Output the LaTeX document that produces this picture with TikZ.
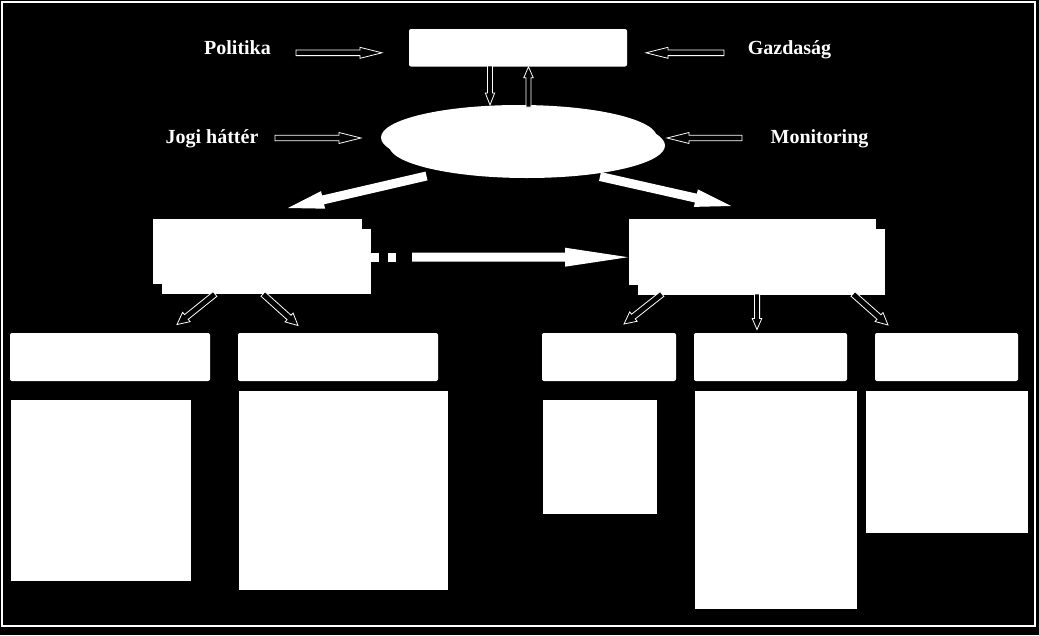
\documentclass[tikz,border=0pt]{standalone}
\usepackage{fontspec}
\setmainfont{Liberation Serif}
\usetikzlibrary{calc,shapes.geometric,shadows}
\tikzset{
  lbl/.style={text=white, font=\bfseries\fontsize{20}{24}\selectfont, inner sep=0pt, anchor=base},
  box/.style={fill=white, draw=none, inner sep=0pt, rectangle},
  rbox/.style={box, rounded corners=2pt},
  boxshadow/.style={drop shadow={shadow xshift=9pt, shadow yshift=-10pt, fill=white, opacity=1}},
  ellshadow/.style={drop shadow={shadow xshift=8pt, shadow yshift=-8pt, fill=white, opacity=1}},
  oarr/.style={draw=white, fill=black, line width=0.8pt, line join=miter},
  sarr/.style={fill=white, draw=none},
  barrow/.style n args={3}{to path={
    ($(\tikztostart)!#1!90:(\tikztotarget)$)
    -- ($(\tikztotarget)!#3!(\tikztostart)!#1!-90:(\tikztostart)$)
    -- ($(\tikztotarget)!#3!(\tikztostart)!#2!-90:(\tikztostart)$)
    -- (\tikztotarget)
    -- ($(\tikztotarget)!#3!(\tikztostart)!#2!90:(\tikztostart)$)
    -- ($(\tikztotarget)!#3!(\tikztostart)!#1!90:(\tikztostart)$)
    -- ($(\tikztostart)!#1!-90:(\tikztotarget)$)
    -- cycle}},
}
\begin{document}
\begin{tikzpicture}[x=1pt,y=-1pt]
% background and frame
\fill[black] (0,0) rectangle (1039,635);
\draw[white, line width=1.5pt] (1.8,1.8) rectangle (1035,626);
\useasboundingbox (0,0) rectangle (1039,635);

% labels
\node[lbl] (pol) at (237.5,54) {Politika};
\node[lbl] (gaz) at (789.5,54) {Gazdaság};
\node[lbl] (jog) at (212,143) {Jogi háttér};
\node[lbl] (mon) at (819.5,143) {Monitoring};

% main nodes
\node[rbox, minimum width=218pt, minimum height=37.5pt] (top) at (518,47.75) {};
\node[ellipse, fill=white, inner sep=0pt, minimum width=276pt, minimum height=65pt, ellshadow] (ell) at (519,137.5) {};
\node[box, minimum width=209pt, minimum height=65pt, boxshadow] (ml) at (257.5,251.5) {};
\node[box, minimum width=247pt, minimum height=66pt, boxshadow] (mr) at (752.5,252) {};

% header boxes
\node[rbox, minimum width=200pt, minimum height=48pt] (h1) at (110,357) {};
\node[rbox, minimum width=200pt, minimum height=48pt] (h2) at (338,357) {};
\node[rbox, minimum width=134pt, minimum height=48pt] (h3) at (609,357) {};
\node[rbox, minimum width=153pt, minimum height=48pt] (h4) at (770.5,357) {};
\node[rbox, minimum width=143pt, minimum height=48pt] (h5) at (946.5,357) {};

% content boxes
\node[box, minimum width=180pt, minimum height=181pt] (c1) at (101,490.5) {};
\node[box, minimum width=209pt, minimum height=199pt] (c2) at (343.5,490.5) {};
\node[box, minimum width=114pt, minimum height=114pt] (c3) at (600,457) {};
\node[box, minimum width=162pt, minimum height=218pt] (c4) at (776,500) {};
\node[box, minimum width=162pt, minimum height=142pt] (c5) at (947,462) {};

% connector end points
\coordinate (polA) at (296,52.8);   \coordinate (polB) at (382,52.8);
\coordinate (gazA) at (724,52.8);   \coordinate (gazB) at (646,52.8);
\coordinate (jogA) at (275,138);    \coordinate (jogB) at (361,138);
\coordinate (monA) at (742,138);    \coordinate (monB) at (667,138);
\coordinate (dnA) at (490,66);      \coordinate (dnB) at (490,105);
\coordinate (upA) at (528.5,107);   \coordinate (upB) at (528.5,66.7);
\coordinate (tlA) at (426.5,176);   \coordinate (tlB) at (288,208);
\coordinate (trA) at (600,176.5);   \coordinate (trB) at (731,206);
\coordinate (dA) at (412,257.2);    \coordinate (dB) at (628,257.2);
\coordinate (b1A) at (215,294);     \coordinate (b1B) at (177,324.5);
\coordinate (b2A) at (263,294);     \coordinate (b2B) at (298,325.5);
\coordinate (b3A) at (662,294);     \coordinate (b3B) at (624,324);
\coordinate (b4A) at (757,294);     \coordinate (b4B) at (757,329.5);
\coordinate (b5A) at (853,294);     \coordinate (b5B) at (888,325);

% outlined arrows
\draw[oarr] (polA) to[barrow={2.8pt}{5.5pt}{22pt}] (polB);
\draw[oarr] (gazA) to[barrow={2.8pt}{5.5pt}{22pt}] (gazB);
\draw[oarr] (jogA) to[barrow={2.8pt}{5.5pt}{22pt}] (jogB);
\draw[oarr] (monA) to[barrow={2.8pt}{5.5pt}{22pt}] (monB);
\draw[oarr] (dnA) to[barrow={2.5pt}{4.7pt}{12pt}] (dnB);
\draw[oarr] (upA) to[barrow={2.5pt}{4.7pt}{11pt}] (upB);
\draw[oarr] (b1A) to[barrow={3pt}{6pt}{12pt}] (b1B);
\draw[oarr] (b2A) to[barrow={3pt}{6pt}{12pt}] (b2B);
\draw[oarr] (b3A) to[barrow={3pt}{6pt}{12pt}] (b3B);
\draw[oarr] (b4A) to[barrow={2.6pt}{4.8pt}{11pt}] (b4B);
\draw[oarr] (b5A) to[barrow={3pt}{6pt}{12pt}] (b5B);

% solid thick arrows
\fill[sarr] (tlA) to[barrow={4.5pt}{9pt}{36pt}] (tlB);
\fill[sarr] (trA) to[barrow={4.5pt}{9pt}{36pt}] (trB);

% dashed arrow from ml to mr
\fill[white] (371,252.5) rectangle (379,262);
\fill[white] (387.5,252.5) rectangle (396,262);
\fill[sarr] (dA) to[barrow={4.5pt}{9.5pt}{63pt}] (dB);
\end{tikzpicture}
\end{document}
